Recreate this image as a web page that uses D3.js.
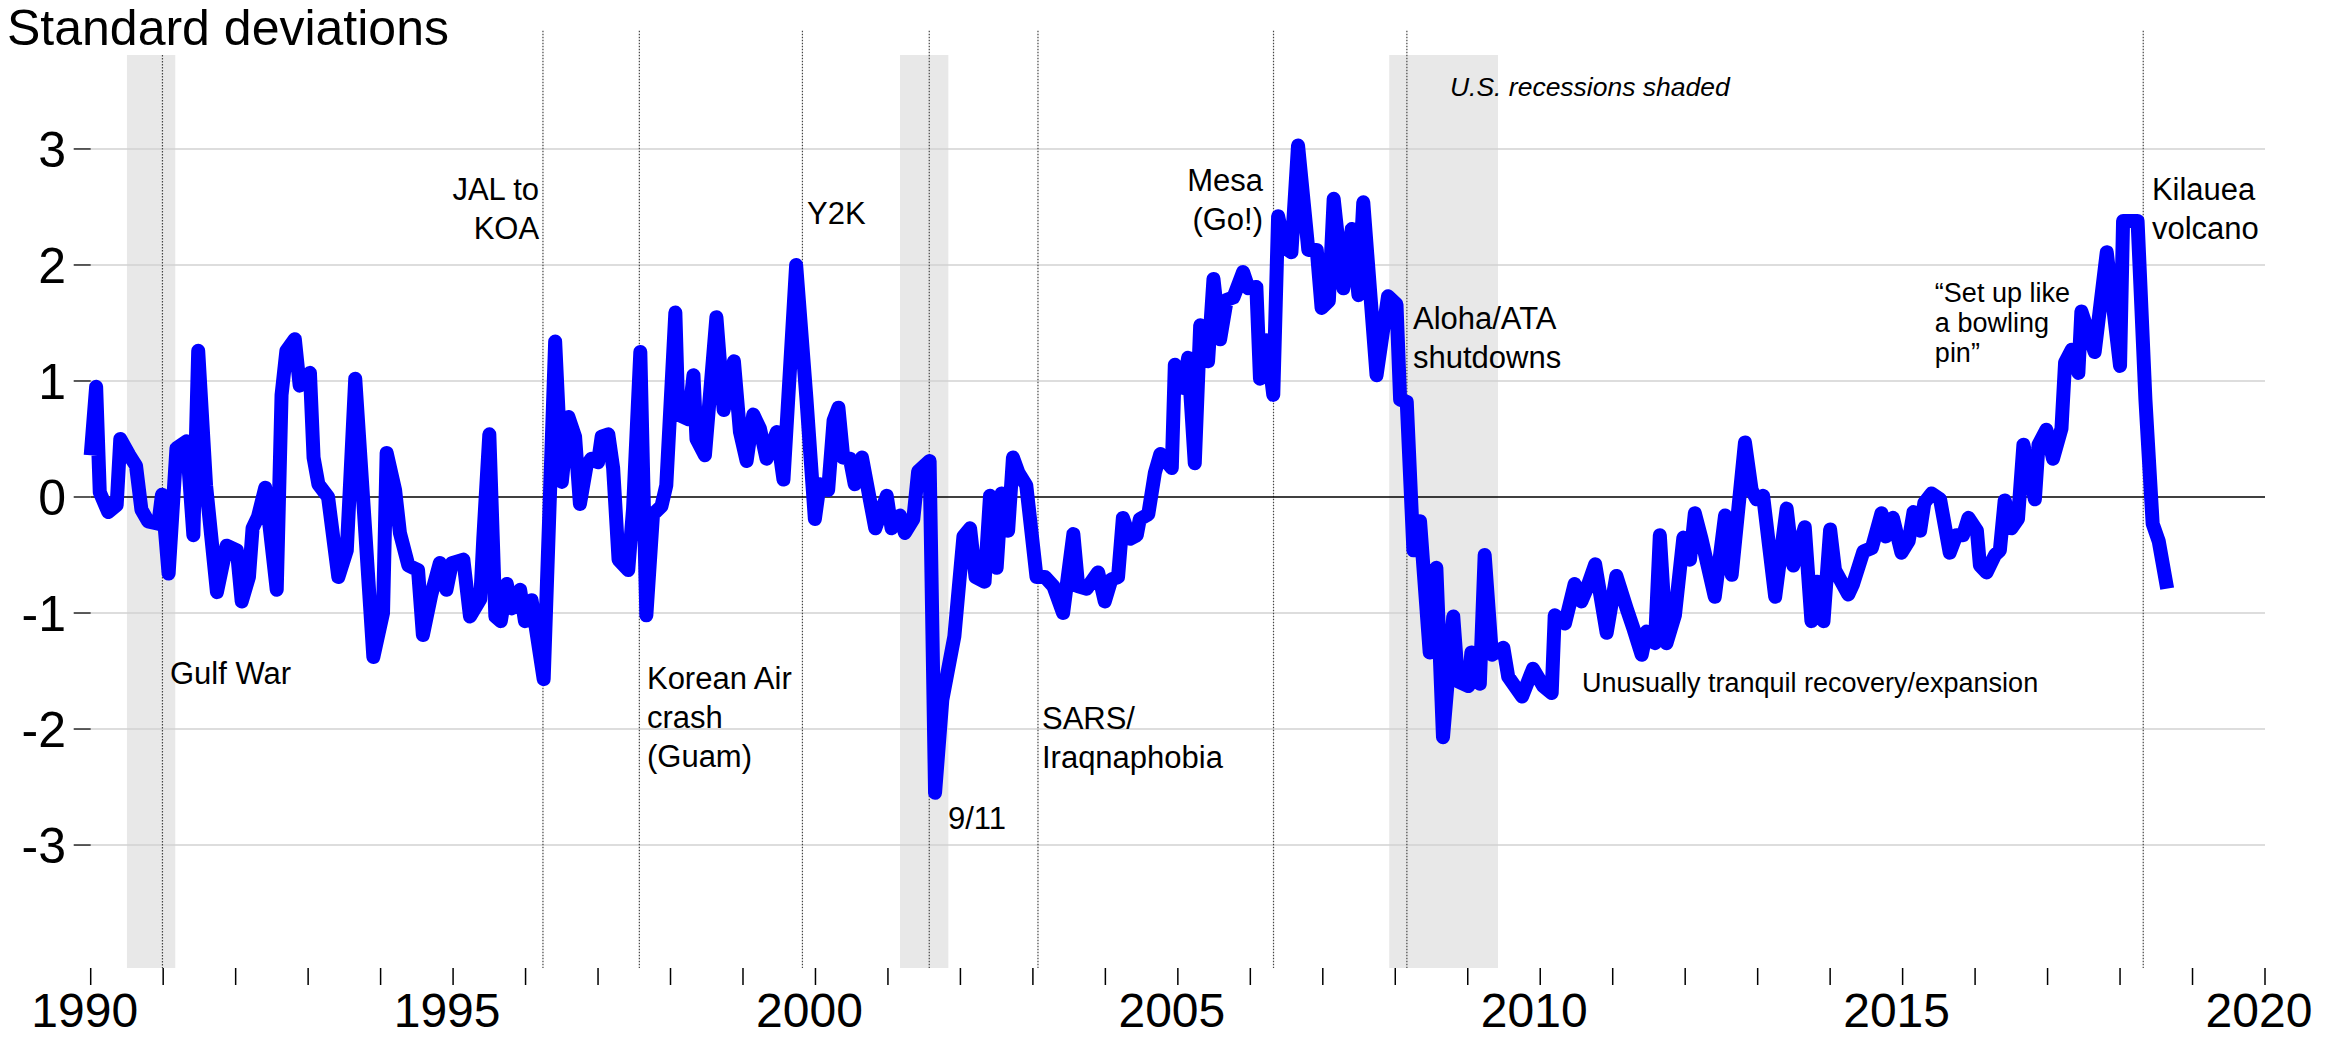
<!DOCTYPE html>
<html><head><meta charset="utf-8">
<script src="https://cdn.jsdelivr.net/npm/d3@7"></script>
<style>
html,body{margin:0;padding:0;background:#fff;}
svg{display:block;}
text{font-family:"Liberation Sans", Arial, Helvetica, sans-serif;fill:#000;}
</style></head><body>
<svg id="chart" width="2336" height="1039"></svg>
<script>
// ---- data (months since Jan 1990, standard deviations) ----
const monthsSince1990 = [0,0.9,1.5,2.9,4.3,4.9,6.4,7.5,8.4,9.5,11.2,11.8,12.9,14.2,15.9,17.0,17.8,19.1,20.9,22.5,24.2,25.0,26.2,26.8,27.7,28.9,30.8,31.6,32.4,33.8,34.6,36.3,36.9,37.7,39.3,41.0,42.4,43.8,45.5,46.8,48.4,49.0,50.4,51.2,52.6,54.2,55.0,56.4,57.8,58.9,59.8,61.7,62.8,64.5,65.0,66.0,67.0,67.9,68.9,69.7,71.1,71.9,73.0,75.0,76.9,78.0,79.1,80.2,81.0,82.1,82.9,84.0,84.6,85.7,86.5,87.4,89.0,89.8,91.0,92.0,93.1,94.5,95.3,96.8,97.3,99.0,99.8,100.3,101.7,103.6,104.8,106.5,107.5,108.6,109.7,110.8,111.9,113.6,114.7,116.8,118.5,119.9,120.7,122.1,123.0,123.8,124.6,125.7,126.5,127.7,129.9,131.8,132.6,134.0,134.8,136.2,137.0,138.9,139.8,141.0,143.0,144.5,145.6,146.5,148.0,148.9,150.0,150.8,151.9,152.7,153.6,154.9,156.6,158.0,159.4,161.0,162.7,163.5,164.9,166.8,167.9,169.0,170.1,170.9,172.1,173.2,173.7,175.1,176.2,177.1,179.0,179.5,180.9,181.7,182.8,183.7,185.0,185.9,187.0,188.1,189.2,190.8,191.7,193.0,193.6,194.7,195.8,196.6,197.7,198.8,199.9,201.0,201.6,203.0,203.8,205.0,205.8,207.4,208.8,209.9,210.7,212.9,214.8,216.2,216.8,217.9,219.0,220.1,221.7,222.8,223.9,225.6,226.4,228.1,228.6,230.0,230.8,232.0,233.9,234.7,237.0,238.8,240.5,241.9,242.4,244.1,245.7,246.8,247.7,249.1,251.0,252.6,254.3,255.4,256.8,257.6,259.0,259.8,260.9,262.3,263.7,264.8,265.6,266.7,268.9,270.6,271.7,273.9,275.0,275.8,276.9,278.9,280.8,281.9,283.8,284.9,285.8,286.9,288.0,288.8,291.0,291.8,293.5,294.9,296.5,297.2,298.4,299.8,301.0,301.8,302.9,303.6,304.8,306.2,307.8,308.9,310.0,310.9,312.3,312.8,313.9,315.3,316.1,316.9,318.0,319.1,320.0,321.9,322.5,323.8,324.9,326.3,326.9,328.0,329.1,329.6,331.8,333.8,336.0,336.5,338.9,340.2,341.4,342.4,343.8];
const values = [0.36,0.95,0.04,-0.13,-0.07,0.50,0.36,0.27,-0.11,-0.21,-0.23,0.02,-0.66,0.42,0.48,-0.33,1.26,0.10,-0.82,-0.42,-0.46,-0.90,-0.69,-0.27,-0.17,0.08,-0.80,0.88,1.26,1.36,0.96,1.07,0.34,0.11,0.00,-0.69,-0.46,1.02,-0.33,-1.38,-1.00,0.38,0.06,-0.31,-0.59,-0.63,-1.19,-0.84,-0.57,-0.80,-0.57,-0.54,-1.03,-0.88,-0.36,0.54,-1.03,-1.07,-0.75,-0.96,-0.80,-1.07,-0.89,-1.57,1.34,0.13,0.69,0.52,-0.06,0.27,0.33,0.30,0.52,0.54,0.25,-0.54,-0.63,-0.10,1.25,-1.02,-0.15,-0.08,0.10,1.59,0.71,0.67,1.05,0.50,0.36,1.55,0.75,1.17,0.56,0.31,0.71,0.59,0.33,0.56,0.15,2.00,0.85,-0.19,0.11,0.06,0.66,0.77,0.34,0.33,0.11,0.34,-0.27,0.01,-0.27,-0.16,-0.31,-0.19,0.22,0.31,-2.55,-1.75,-1.20,-0.34,-0.27,-0.69,-0.73,0.01,-0.61,0.03,-0.29,0.34,0.21,0.10,-0.69,-0.69,-0.77,-1.00,-0.32,-0.77,-0.79,-0.65,-0.90,-0.71,-0.69,-0.18,-0.36,-0.33,-0.19,-0.15,0.21,0.37,0.25,1.14,0.94,1.20,0.29,1.48,1.17,1.88,1.36,1.70,1.72,1.94,1.80,1.81,1.02,1.35,0.88,2.42,2.15,2.11,3.03,2.45,2.13,2.13,1.63,1.69,2.57,1.80,2.31,1.74,2.54,1.05,1.73,1.66,0.84,0.82,-0.46,-0.21,-1.34,-0.61,-2.07,-1.03,-1.59,-1.63,-1.34,-1.61,-0.50,-1.36,-1.30,-1.55,-1.72,-1.48,-1.63,-1.69,-1.02,-1.09,-0.75,-0.90,-0.79,-0.58,-1.17,-0.68,-0.96,-1.13,-1.36,-1.16,-1.26,-0.33,-1.26,-1.02,-0.35,-0.54,-0.14,-0.36,-0.86,-0.16,-0.67,0.47,0.06,-0.02,0.01,-0.86,-0.10,-0.59,-0.26,-1.07,-0.73,-1.07,-0.28,-0.63,-0.84,-0.75,-0.47,-0.44,-0.14,-0.34,-0.18,-0.48,-0.38,-0.13,-0.29,-0.05,0.03,-0.02,-0.48,-0.33,-0.33,-0.18,-0.29,-0.59,-0.65,-0.50,-0.46,-0.03,-0.27,-0.19,0.45,-0.02,0.45,0.58,0.33,0.59,1.16,1.27,1.07,1.60,1.25,2.11,1.13,2.38,2.38,0.84,-0.23,-0.38,-0.79];

const recessionStarts = [1990.5, 2001.1667, 2007.9167];
const recessionEnds   = [1991.1667, 2001.8333, 2009.4167];

const eventDates = [1990.99, 1996.24, 1997.57, 1999.82, 2001.57, 2003.07, 2006.32, 2008.16, 2018.32];

const yTickValues = [-3, -2, -1, 0, 1, 2, 3];
const yTickLabels = ["-3", "-2", "-1", "0", "1", "2", "3"];
const xTickYears = d3.range(1990, 2021);
const xLabelYears = [1990, 1995, 2000, 2005, 2010, 2015, 2020];

const titleText = "Standard deviations";
const noteText = "U.S. recessions shaded";

// annotation texts (lines), anchored in data coordinates
const annotations = [
  {lines:["Gulf War"], x:1991.094, y:-1.612, anchor:"start", size:31},
  {lines:["JAL to","KOA"], x:1996.187, y:2.56, anchor:"end", size:31},
  {lines:["Korean Air","crash","(Guam)"], x:1997.675, y:-1.655, anchor:"start", size:31},
  {lines:["Y2K"], x:1999.883, y:2.353, anchor:"start", size:31},
  {lines:["9/11"], x:2001.828, y:-2.862, anchor:"start", size:31},
  {lines:["SARS/","Iraqnaphobia"], x:2003.125, y:-2.0, anchor:"start", size:31},
  {lines:["Mesa","(Go!)"], x:2006.175, y:2.638, anchor:"end", size:31},
  {lines:["Aloha/ATA","shutdowns"], x:2008.244, y:1.448, anchor:"start", size:31},
  {lines:["Unusually tranquil recovery/expansion"], x:2010.575, y:-1.681, anchor:"start", size:27},
  {lines:["\u201CSet up like","a bowling","pin\u201D"], x:2015.445, y:1.681, anchor:"start", size:27, lh:30},
  {lines:["Kilauea","volcano"], x:2018.44, y:2.56, anchor:"start", size:31}
];

// ---- scales ----
const x = d3.scaleLinear().domain([1990, 2020]).range([90.7, 2265]);
const y = d3.scaleLinear().domain([-4.06, 3.81]).range([968, 55]);
const svg = d3.select("#chart");

// recession shading
svg.append("g").selectAll("rect").data(recessionStarts).join("rect")
  .attr("x", (d) => x(d))
  .attr("width", (d, i) => x(recessionEnds[i]) - x(d))
  .attr("y", y(3.81)).attr("height", y(-4.06) - y(3.81))
  .attr("fill", "#e8e8e8");

// gridlines
svg.append("g").selectAll("line").data(yTickValues.filter(v => v !== 0)).join("line")
  .attr("x1", x(1990)).attr("x2", x(2020))
  .attr("y1", d => y(d)).attr("y2", d => y(d))
  .attr("stroke", "#d2d2d2").attr("stroke-width", 1.5);

// event lines
svg.append("g").selectAll("line").data(eventDates).join("line")
  .attr("x1", d => x(d)).attr("x2", d => x(d))
  .attr("y1", (d, i) => i === 0 ? y(3.81) : y(4.02)).attr("y2", y(-4.06))
  .attr("stroke", "#444").attr("stroke-width", 1.2)
  .attr("stroke-dasharray", "1.5,1.5");

// zero line
svg.append("line")
  .attr("x1", x(1990)).attr("x2", x(2020))
  .attr("y1", y(0)).attr("y2", y(0))
  .attr("stroke", "#000").attr("stroke-width", 1.3);

// y axis ticks + labels
const yAxis = svg.append("g");
yAxis.selectAll("line").data(yTickValues).join("line")
  .attr("x1", x(1990) - 17).attr("x2", x(1990))
  .attr("y1", d => y(d)).attr("y2", d => y(d))
  .attr("stroke", "#000").attr("stroke-width", 1.3);
yAxis.selectAll("text").data(yTickValues).join("text")
  .attr("x", 66).attr("y", d => y(d)).attr("dy", "0.36em")
  .attr("text-anchor", "end").attr("font-size", 50)
  .text((d, i) => yTickLabels[i]);

// x axis ticks + labels
const xAxis = svg.append("g");
xAxis.selectAll("line").data(xTickYears).join("line")
  .attr("x1", d => x(d)).attr("x2", d => x(d))
  .attr("y1", y(-4.06)).attr("y2", y(-4.06) + 17)
  .attr("stroke", "#000").attr("stroke-width", 1.5);
xAxis.selectAll("text").data(xLabelYears).join("text")
  .attr("x", d => x(d) - 6).attr("y", 1027)
  .attr("text-anchor", "middle").attr("font-size", 48)
  .text(d => d);

// data line
const series = monthsSince1990.map((m, i) => ({date: 1990 + m / 12, value: values[i]}));
svg.append("path").datum(series)
  .attr("fill", "none").attr("stroke", "#0000ff").attr("stroke-width", 14)
  .attr("stroke-linejoin", "round").attr("stroke-linecap", "butt")
  .attr("d", d3.line().x(d => x(d.date)).y(d => y(d.value)));

// title
svg.append("text").attr("x", 7).attr("y", 45).attr("font-size", 50).text(titleText);

// note
svg.append("text").attr("x", x(2008.754)).attr("y", y(3.457))
  .attr("font-size", 26.5).attr("font-style", "italic").text(noteText);

// annotations
annotations.forEach(a => {
  const t = svg.append("text").attr("font-size", a.size).attr("text-anchor", a.anchor);
  const lh = a.lh || 39;
  a.lines.forEach((ln, i) => {
    t.append("tspan").attr("x", x(a.x)).attr("y", y(a.y) + i * lh).text(ln);
  });
});
</script>
</body></html>
